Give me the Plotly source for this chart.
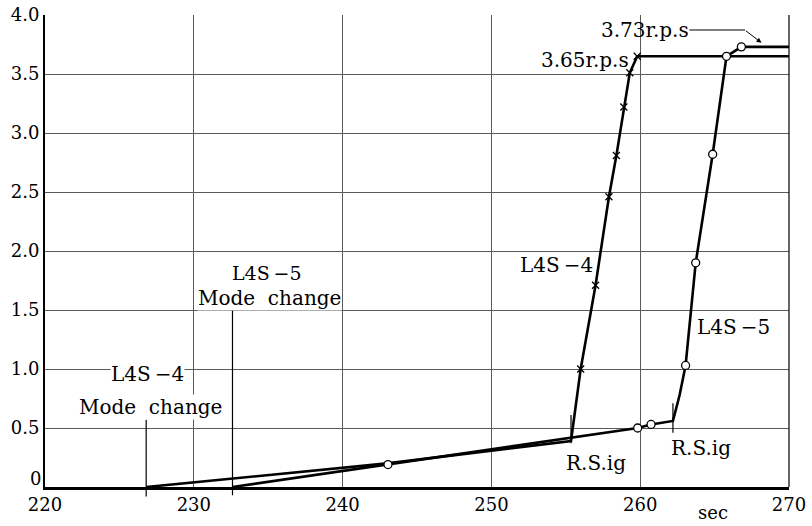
import plotly.graph_objects as go

# --- data -------------------------------------------------------------
# L4S-4 speed trace (time in sec, speed in r.p.s)
l4s4_line_t = [226.8, 243.0, 255.35, 256.0, 257.0, 257.9, 258.4, 258.9, 259.3, 259.8, 270.0]
l4s4_line_v = [0.0, 0.20, 0.39, 1.00, 1.71, 2.46, 2.81, 3.22, 3.51, 3.65, 3.65]
l4s4_mark_t = [256.0, 257.0, 257.9, 258.4, 258.9, 259.3, 259.8]
l4s4_mark_v = [1.00, 1.71, 2.46, 2.81, 3.22, 3.51, 3.65]

# L4S-5 speed trace
l4s5_line_t = [232.6, 243.05, 255.35, 259.83, 260.73, 262.2, 262.65, 263.05, 263.73, 264.87, 265.8, 266.8, 270.0]
l4s5_line_v = [0.0, 0.19, 0.42, 0.50, 0.53, 0.56, 0.78, 1.03, 1.90, 2.82, 3.65, 3.73, 3.73]
l4s5_mark_t = [243.05, 259.83, 260.73, 263.05, 263.73, 264.87, 265.8, 266.8]
l4s5_mark_v = [0.19, 0.50, 0.53, 1.03, 1.90, 2.82, 3.65, 3.73]

# event markers: (time, low, high)
mode_change = [(226.8, -0.08, 0.57), (232.6, -0.07, 1.51)]
rs_ig = [(255.35, 0.37, 0.61), (262.2, 0.46, 0.71)]

x_ticks = [220, 230, 240, 250, 260, 270]
y_ticks = [0, 0.5, 1.0, 1.5, 2.0, 2.5, 3.0, 3.5, 4.0]
y_ticktext = ["", "0.5", "1.0", "1.5", "2.0", "2.5", "3.0", "3.5", "4.0"]

X_RANGE = [220, 270]
Y_RANGE = [0, 4.0]

FONT = "DejaVu Serif"


def to_paper_y(v):
    return (v - Y_RANGE[0]) / (Y_RANGE[1] - Y_RANGE[0])


fig = go.Figure()

line_style = dict(color="black", width=2.6)
fig.add_trace(go.Scatter(x=l4s4_line_t, y=l4s4_line_v, mode="lines",
                         line=line_style, hoverinfo="skip"))
fig.add_trace(go.Scatter(x=l4s5_line_t, y=l4s5_line_v, mode="lines",
                         line=line_style, hoverinfo="skip"))
fig.add_trace(go.Scatter(x=l4s4_mark_t, y=l4s4_mark_v, mode="markers",
                         marker=dict(symbol="x-thin", size=7,
                                     line=dict(color="black", width=1.3)),
                         cliponaxis=False))
fig.add_trace(go.Scatter(x=l4s5_mark_t, y=l4s5_mark_v, mode="markers",
                         marker=dict(symbol="circle", size=8, color="white",
                                     line=dict(color="black", width=1.3)),
                         cliponaxis=False))

shapes = []
for t, lo, hi in mode_change:
    shapes.append(dict(type="line", xref="x", yref="paper",
                       x0=t, x1=t, y0=to_paper_y(lo), y1=to_paper_y(hi),
                       line=dict(color="black", width=1.2)))
for t, lo, hi in rs_ig:
    shapes.append(dict(type="line", xref="x", yref="y",
                       x0=t, x1=t, y0=lo, y1=hi,
                       line=dict(color="black", width=1.2)))
# right border of the frame
shapes.append(dict(type="line", xref="paper", yref="paper", x0=1, x1=1, y0=0, y1=1,
                   line=dict(color="black", width=1.2)))
# leader from the 3.73 label
shapes.append(dict(type="line", xref="x", yref="y", x0=263.3, x1=267.05, y0=3.873, y1=3.873,
                   line=dict(color="black", width=1)))
fig.update_layout(shapes=shapes)

ann_font = dict(family=FONT, size=20, color="black")
tight_font = dict(family=FONT, size=19, color="black")
annotations = [
    dict(x=234.9, y=1.81, text="L4S\u2009\u22125", showarrow=False, font=tight_font,
         bgcolor="white", borderpad=0),
    dict(x=235.1, y=1.605, text="Mode  change", showarrow=False, font=ann_font,
         bgcolor="white", borderpad=0),
    dict(x=226.9, y=0.955, text="L4S\u2009\u22124", showarrow=False, font=ann_font,
         bgcolor="white", borderpad=0),
    dict(x=227.1, y=0.68, text="Mode  change", showarrow=False, font=ann_font,
         bgcolor="white", borderpad=0),
    dict(x=254.35, y=1.88, text="L4S\u2009\u22124", showarrow=False, font=ann_font),
    dict(x=266.3, y=1.36, text="L4S\u2009\u22125", showarrow=False, font=ann_font),
    dict(x=257.0, y=0.20, text="R.S.ig", showarrow=False, font=ann_font),
    dict(x=264.1, y=0.33, text="R.S.ig", showarrow=False, font=ann_font),
    dict(x=260.3, y=3.873, text="3.73r.p.s", showarrow=False, font=ann_font),
    dict(x=256.3, y=3.62, text="3.65r.p.s", showarrow=False, font=ann_font),
    dict(x=268.15, y=3.765, text="", showarrow=True, arrowhead=2, arrowsize=1,
         arrowwidth=1, arrowcolor="black", ax=-17, ay=-13),
    # zero label of the speed axis, nudged up clear of the time labels
    dict(x=0, y=0, xref="paper", yref="y", text="0", showarrow=False,
         xanchor="right", yanchor="middle", xshift=-2, yshift=9,
         font=dict(family=FONT, size=18, color="black")),
    dict(x=264.9, y=-0.054, xref="x", yref="paper", text="sec", showarrow=False,
         yanchor="middle", borderpad=0, font=dict(family=FONT, size=18, color="black")),
]
fig.update_layout(annotations=annotations)

grid_color = "#5a5a5a"
fig.update_xaxes(range=X_RANGE, tickvals=x_ticks, ticktext=[str(v) for v in x_ticks],
                 showgrid=True, gridcolor=grid_color, gridwidth=1,
                 showline=True, linecolor="black", linewidth=2.5,
                 zeroline=False, ticks="", automargin=False,
                 tickfont=dict(family=FONT, size=18, color="black"))
fig.update_yaxes(range=Y_RANGE, tickvals=y_ticks, ticktext=y_ticktext,
                 showgrid=True, gridcolor=grid_color, gridwidth=1,
                 showline=True, linecolor="black", linewidth=2,
                 zeroline=False, ticks="", automargin=False,
                 tickfont=dict(family=FONT, size=18, color="black"))

fig.update_layout(width=812, height=526,
                  margin=dict(l=45, r=23, t=15, b=39),
                  paper_bgcolor="white", plot_bgcolor="white",
                  showlegend=False)

fig.write_html("out.html")
